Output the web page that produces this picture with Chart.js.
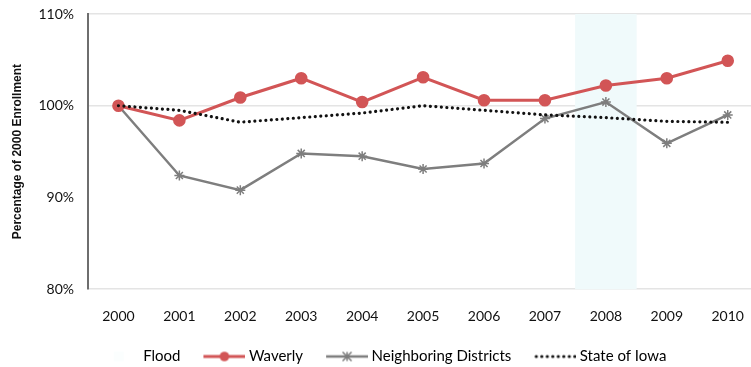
<!DOCTYPE html>
<html>
<head>
<meta charset="utf-8">
<script src="https://cdn.jsdelivr.net/npm/chart.js@4/dist/chart.umd.min.js"></script>
<style>
  html, body { margin: 0; padding: 0; background: #fff; overflow: hidden; }
  #wrap { width: 766px; height: 367px; }
</style>
</head>
<body>
<div id="wrap"><canvas id="c" width="766" height="367"></canvas></div>
<script>
// Enrollment as a percentage of the 2000 level
const years = ['2000', '2001', '2002', '2003', '2004', '2005', '2006', '2007', '2008', '2009', '2010'];
const waverly = [100, 98.4, 100.9, 103.0, 100.4, 103.1, 100.6, 100.6, 102.2, 103.0, 104.9];
const neighboringDistricts = [100, 92.4, 90.8, 94.8, 94.5, 93.1, 93.7, 98.6, 100.4, 95.9, 99.0];
const stateOfIowa = [100, 99.5, 98.2, 98.7, 99.2, 100.0, 99.5, 99.0, 98.7, 98.3, 98.2];
// Flood year band (2008)
const flood = [null, null, null, null, null, null, null, null, 110, null, null];
const yTicks = [80, 90, 100, 110];

const RED = '#d25556';
const GRAY = '#7e7e7e';
const FLOOD_FILL = '#f0fafb';
const FONT = 'Lato, "Open Sans", sans-serif';

// Legend swatches: a line segment with the series marker in the middle.
// The image is wider than the legend box and leans right, so the
// segment sits close to its label.
const LEGEND_PAD = 13;
const BOX_W = 61 - LEGEND_PAD;
const IMG_W = BOX_W + 8;
const SEG_START = IMG_W - 42;
function swatch(kind) {
  const h = 12;
  const cv = document.createElement('canvas');
  cv.width = IMG_W; cv.height = h;
  const g = cv.getContext('2d');
  const y = h / 2;
  const x0 = SEG_START, x1 = IMG_W;
  const cx = (x0 + x1) / 2;
  if (kind === 'waverly') {
    g.strokeStyle = RED; g.lineWidth = 3;
    g.beginPath(); g.moveTo(x0, y); g.lineTo(x1, y); g.stroke();
    g.fillStyle = RED;
    g.beginPath(); g.arc(cx, y, 4.8, 0, Math.PI * 2); g.fill();
  } else if (kind === 'neighbors') {
    g.strokeStyle = GRAY; g.lineWidth = 2.5;
    g.beginPath(); g.moveTo(x0, y); g.lineTo(x1, y); g.stroke();
    g.lineWidth = 1.5;
    const r = 4.5;
    g.beginPath();
    g.moveTo(cx - r, y - r); g.lineTo(cx + r, y + r);
    g.moveTo(cx + r, y - r); g.lineTo(cx - r, y + r);
    g.moveTo(cx, y - r); g.lineTo(cx, y + r);
    g.stroke();
  } else if (kind === 'iowa') {
    g.fillStyle = '#111';
    for (let x = x0 + 2; x < x1; x += 5.5) {
      g.beginPath(); g.arc(x, y, 1.6, 0, Math.PI * 2); g.fill();
    }
  } else {
    g.fillStyle = '#fbfefe';
    g.fillRect(cx - 5, y - 5, 10, 10);
  }
  return cv;
}

const legendStyles = {
  'Flood': swatch('flood'),
  'Waverly': swatch('waverly'),
  'Neighboring Districts': swatch('neighbors'),
  'State of Iowa': swatch('iowa')
};

new Chart(document.getElementById('c'), {
  data: {
    labels: years,
    datasets: [
      {
        type: 'bar',
        label: 'Flood',
        data: flood,
        backgroundColor: FLOOD_FILL,
        borderWidth: 0,
        barPercentage: 1.0,
        categoryPercentage: 1.0,
        order: 10
      },
      {
        type: 'line',
        label: 'Waverly',
        data: waverly,
        borderColor: RED,
        backgroundColor: RED,
        borderWidth: 3,
        pointRadius: 4.8,
        pointBackgroundColor: RED,
        pointBorderColor: RED,
        tension: 0,
        order: 1
      },
      {
        type: 'line',
        label: 'Neighboring Districts',
        data: neighboringDistricts,
        borderColor: GRAY,
        backgroundColor: GRAY,
        borderWidth: 2.5,
        pointStyle: 'star',
        pointRadius: 5,
        pointBorderWidth: 1.5,
        pointBorderColor: GRAY,
        tension: 0,
        order: 2
      },
      {
        type: 'line',
        label: 'State of Iowa',
        data: stateOfIowa,
        borderColor: '#111',
        borderWidth: 3.2,
        borderDash: [0.01, 5.5],
        borderCapStyle: 'round',
        pointRadius: 0,
        tension: 0,
        order: 0
      }
    ]
  },
  options: {
    responsive: false,
    animation: false,
    maintainAspectRatio: false,
    layout: { padding: { left: -12, right: 0, top: 3, bottom: -7 } },
    scales: {
      x: {
        offset: true,
        grid: { display: false },
        border: { display: false },
        ticks: {
          color: '#111',
          padding: 11,
          font: { family: FONT, size: 14 }
        }
      },
      y: {
        min: 80,
        max: 110,
        afterBuildTicks: (axis) => { axis.ticks = yTicks.map(v => ({ value: v })); },
        afterFit: (axis) => { axis.paddingTop = 14; },
        grid: {
          color: (ctx) => (ctx.tick && ctx.tick.value === 90 ? 'rgba(0,0,0,0)' : '#e4e4e4'),
          lineWidth: 1.5,
          drawTicks: false
        },
        border: { display: true, color: '#6e6e6e', width: 2 },
        ticks: {
          color: '#111',
          padding: 14,
          font: { family: FONT, size: 14 },
          callback: (v) => v + '%'
        },
        title: {
          display: true,
          text: 'Percentage of 2000 Enrollment',
          color: '#111',
          padding: { top: 22, bottom: 0 },
          font: { family: '"Liberation Sans", Arial, sans-serif', size: 12, weight: 'bold' }
        }
      }
    },
    plugins: {
      tooltip: { enabled: false },
      legend: {
        position: 'bottom',
        labels: {
          usePointStyle: true,
          pointStyleWidth: BOX_W,
          padding: LEGEND_PAD,
          color: '#111',
          font: { family: FONT, size: 15 },
          generateLabels: (chart) => chart.data.datasets.map((ds, i) => ({
            text: ds.label,
            pointStyle: legendStyles[ds.label],
            fillStyle: 'rgba(0,0,0,0)',
            strokeStyle: 'rgba(0,0,0,0)',
            lineWidth: 0,
            hidden: false,
            datasetIndex: i
          }))
        }
      }
    }
  }
});
</script>
</body>
</html>
